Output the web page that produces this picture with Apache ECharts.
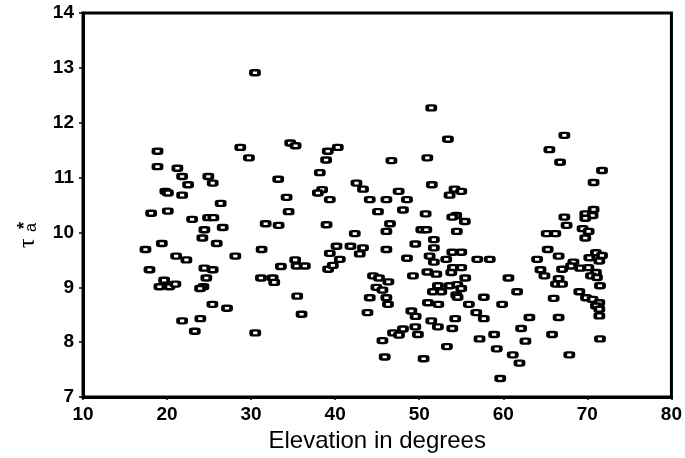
<!DOCTYPE html>
<html>
<head>
<meta charset="utf-8">
<script src="https://cdn.jsdelivr.net/npm/echarts@6/dist/echarts.min.js"></script>
<style>
  html, body { margin: 0; padding: 0; background: #fff; }
  #chart { width: 685px; height: 458px; }
</style>
</head>
<body>
<div id="chart"></div>
<script>
  // elevation (deg) of each observation
  var elevation = [
    18.86, 21.23, 21.79, 24.91, 25.43, 22.50, 33.22, 38.17, 19.8, 20.1,
    21.79, 38.45, 37.94, 34.22, 39.36, 26.38, 18.11, 20.09, 34.46, 22.98,
    24.88, 25.51, 26.62, 24.44, 31.73, 33.27, 38.97, 24.20, 19.38, 25.91,
    17.43, 31.25, 21.08, 22.30, 28.12, 35.24, 33.54, 35.41, 36.39, 39.36,
    17.91, 24.44, 25.43, 39.16, 19.65, 19.09, 20.28, 20.99, 24.67, 24.32,
    23.93, 31.17, 32.56, 32.75, 35.48,
    30.46, 18.86, 28.71, 29.74, 34.65, 35.29, 40.31, 39.12, 38.92,
    51.43, 53.41, 50.96, 46.69, 67.26, 65.48, 66.75,
    42.53, 43.31, 51.50, 54.20, 55.00, 53.61, 47.55, 44.11, 46.09, 48.54,
    45.09, 48.06, 50.76, 54.40, 53.93, 55.42, 46.52, 42.33, 46.09, 50.25,
    50.84, 54.47, 40.16, 41.82, 43.31, 42.92, 51.74, 49.53, 51.74, 46.09,
    53.93, 55.00, 40.55, 39.72, 48.54, 51.23, 51.74, 53.21, 56.90, 58.39,
    54.00, 55.00, 53.81, 50.96, 52.03, 44.50, 45.21, 49.25, 46.33, 55.47,
    60.61, 44.90, 45.62, 52.22, 53.61, 54.52, 55.00, 51.62, 52.62, 54.40,
    54.56, 61.64, 44.11, 46.09, 57.68,
    71.74, 70.74, 70.74, 69.75, 70.62, 69.75, 67.26, 67.53, 69.43, 70.15,
    69.75, 65.16, 66.19, 65.28, 66.58, 64.02, 71.02, 71.74, 71.42, 70.23,
    68.34, 68.07, 69.14, 70.12, 64.42, 64.89, 66.99, 71.02, 70.43, 71.14,
    66.58, 66.27, 66.99, 71.50, 69.04, 69.84, 70.62, 71.42, 71.02, 71.42,
    65.99, 71.42, 63.10, 66.58,
    25.39, 27.13, 21.79, 23.96, 23.30, 30.49,
    36.00, 46.28, 43.84, 51.03, 52.27, 55.90, 49.06, 49.57, 51.43, 54.28,
    56.78, 49.53, 52.22, 53.93, 46.88, 48.06, 47.59, 49.84, 45.62, 57.17,
    53.29, 45.89, 50.52,
    59.86, 57.68, 62.12, 65.80, 58.91, 62.63, 71.50, 59.22, 61.12, 61.92,
    67.85, 59.63
  ];
  // tau*_a value of each observation
  var tau = [
    11.20, 11.17, 11.02, 11.02, 10.90, 10.87, 10.97, 11.09, 10.75, 10.72,
    10.68, 10.78, 10.72, 10.64, 10.60, 10.53, 10.35, 10.39, 10.38, 10.24,
    10.27, 10.27, 10.09, 10.05, 10.16, 10.13, 10.14, 9.90, 9.80, 9.80,
    9.69, 9.69, 9.57, 9.50, 9.57, 9.50, 9.38, 9.39, 9.39, 9.62,
    9.32, 9.35, 9.32, 9.33, 9.13, 9.01, 9.01, 9.06, 9.17, 9.01,
    8.98, 9.17, 9.17, 9.09, 8.84,
    12.91, 11.48, 11.55, 11.36, 11.63, 11.58, 11.55, 11.48, 11.32,
    12.27, 11.70, 11.36, 11.31, 11.77, 11.51, 11.28,
    10.90, 10.79, 10.87, 10.79, 10.75, 10.68, 10.75, 10.60, 10.60, 10.60,
    10.38, 10.41, 10.34, 10.31, 10.28, 10.20, 10.16, 9.98, 10.02, 10.05,
    10.05, 10.02, 9.75, 9.75, 9.72, 9.61, 9.87, 9.79, 9.72, 9.69,
    9.64, 9.64, 9.51, 9.40, 9.53, 9.57, 9.46, 9.51, 9.51, 9.51,
    9.36, 9.36, 9.27, 9.28, 9.24, 9.21, 9.17, 9.21, 9.10, 9.17,
    9.17, 9.00, 8.95, 9.03, 9.03, 9.05, 8.98, 8.92, 8.92, 8.86,
    8.82, 8.92, 8.81, 8.81, 8.82,
    11.13, 10.91, 10.42, 10.34, 10.31, 10.26, 10.28, 10.13, 10.07, 10.02,
    9.90, 9.98, 9.98, 9.69, 9.57, 9.51, 9.63, 9.58, 9.48, 9.54,
    9.46, 9.39, 9.35, 9.36, 9.32, 9.21, 9.33, 9.27, 9.21, 9.18,
    9.16, 9.06, 9.06, 9.03, 8.92, 8.81, 8.78, 8.72, 8.66, 8.60,
    8.80, 8.48, 8.45, 8.45,
    8.69, 8.62, 8.39, 8.43, 8.20, 8.17,
    8.51, 8.69, 8.54, 8.72, 8.69, 8.69, 8.57, 8.47, 8.39, 8.43,
    8.54, 8.28, 8.28, 8.25, 8.17, 8.24, 8.13, 8.14, 8.03, 8.06,
    7.92, 7.73, 7.70,
    8.69, 8.43, 8.25, 8.14, 8.14, 8.02, 8.06, 7.88, 7.77, 7.62,
    7.77, 7.34
  ];
  var xTicks = [10, 20, 30, 40, 50, 60, 70, 80];
  var yTicks = [7, 8, 9, 10, 11, 12, 13, 14];

  var points = elevation.map(function (e, i) { return [e, tau[i]]; });

  var labelFont = {
    color: '#000',
    fontFamily: 'Liberation Sans, Arial, sans-serif',
    fontSize: 19,
    fontWeight: 'bold'
  };

  var myChart = echarts.init(document.getElementById('chart'));
  myChart.setOption({
    animation: false,
    backgroundColor: '#fff',
    grid: {
      left: 83,
      right: 13,
      top: 13,
      bottom: 60,
      show: true,
      borderColor: '#000',
      borderWidth: 3
    },
    xAxis: {
      type: 'value',
      min: xTicks[0],
      max: xTicks[xTicks.length - 1],
      interval: 10,
      name: 'Elevation in degrees',
      nameLocation: 'middle',
      nameGap: 29,
      nameTextStyle: {
        color: '#000',
        fontFamily: 'Liberation Sans, Arial, sans-serif',
        fontSize: 24
      },
      axisLine: { onZero: false, lineStyle: { color: '#000', width: 3 } },
      axisTick: { show: true, length: 3, lineStyle: { color: '#000', width: 1.5 } },
      axisLabel: Object.assign({ margin: 8 }, labelFont),
      splitLine: { show: false }
    },
    yAxis: {
      type: 'value',
      min: yTicks[0],
      max: yTicks[yTicks.length - 1],
      interval: 1,
      axisLine: { onZero: false, lineStyle: { color: '#000', width: 3 } },
      axisTick: { show: true, length: 4, lineStyle: { color: '#000', width: 1.5 } },
      axisLabel: Object.assign({ margin: 9 }, labelFont),
      splitLine: { show: false }
    },
    graphic: [
      {
        type: 'group',
        x: 28,
        y: 248,
        rotation: Math.PI / 2,
        children: [
          { type: 'text', x: 0, y: 0, style: { text: 'τ', font: '24px "Liberation Serif", serif', fill: '#000', verticalAlign: 'middle' } },
          { type: 'text', x: 19, y: -3, style: { text: '*', font: 'bold 18px "Liberation Sans", sans-serif', fill: '#000', verticalAlign: 'middle' } },
          { type: 'text', x: 16, y: 4, style: { text: 'a', font: '16px "Liberation Sans", sans-serif', fill: '#000', verticalAlign: 'middle' } }
        ]
      }
    ],
    series: [
      {
        type: 'scatter',
        symbol: 'roundRect',
        symbolSize: [8, 5],
        itemStyle: {
          color: '#fff',
          borderColor: '#000',
          borderWidth: 3,
          opacity: 1
        },
        data: points
      }
    ]
  });
</script>
</body>
</html>
